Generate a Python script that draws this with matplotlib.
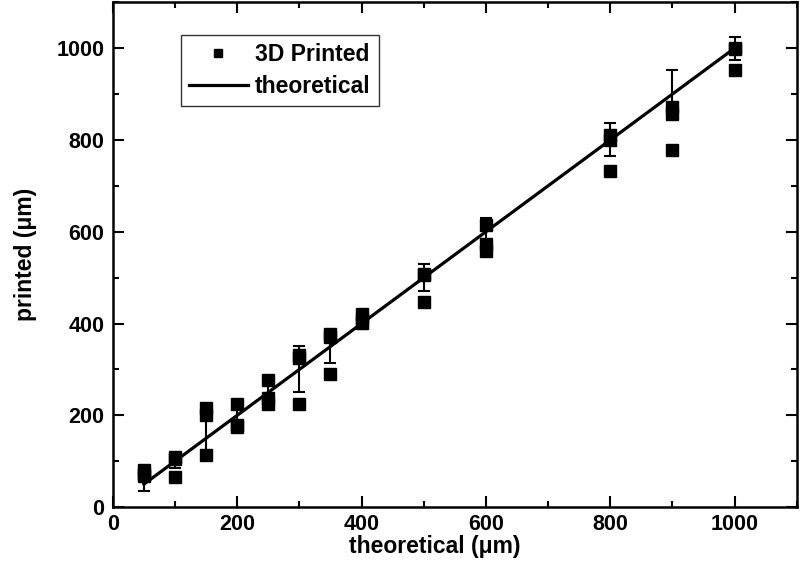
import numpy as np
import matplotlib
matplotlib.use("Agg")
import matplotlib.pyplot as plt
from matplotlib.ticker import MultipleLocator

# -------------------------------
# DATOS
# -------------------------------
theo = [50, 100, 150, 200, 250, 300, 350, 400, 500, 600, 800, 900, 1000]

# tres medidas por punto
printed_a = [80, 110, 215, 225, 276, 332, 378, 420, 509, 614, 810, 872, 1000]
printed_b = [72, 104, 200, 180, 237, 326, 370, 410, 505, 574, 800, 856, 998]
printed_c = [68, 66, 113, 175, 224, 225, 290, 402, 446, 558, 732, 778, 952]

# barras de error (centradas en el valor teórico)
err = [15, 15, 45, 25, 25, 50, 37, 12, 29, 30, 36, 52, 25]

line_x = [50, 1000]
line_y = [50, 1000]

# -------------------------------
# ESTILO
# -------------------------------
plt.rcParams["font.family"] = ["Liberation Sans", "DejaVu Sans"]
plt.rcParams["font.weight"] = "bold"

fig = plt.figure(figsize=(8, 5.66), dpi=100)
ax = fig.add_axes([0.141, 0.104, 0.855, 0.892])

# error bars
ax.errorbar(theo, theo, yerr=err, fmt="none", ecolor="black",
            elinewidth=1.5, capsize=4.5, capthick=1.5, zorder=2)

# puntos
all_x = theo * 3
all_y = printed_a + printed_b + printed_c
ax.plot(all_x, all_y, "s", color="black", markersize=9, zorder=3,
        label="3D Printed")

# teórico
ax.plot(line_x, line_y, "-", color="black", linewidth=2.3, zorder=4,
        label="theoretical")

ax.set_xlim(0, 1100)
ax.set_ylim(0, 1100)

ax.xaxis.set_major_locator(MultipleLocator(200))
ax.xaxis.set_minor_locator(MultipleLocator(100))
ax.yaxis.set_major_locator(MultipleLocator(200))
ax.yaxis.set_minor_locator(MultipleLocator(100))

ax.tick_params(which="both", direction="in", top=True, right=True,
               width=1.5, labelsize=15.5)
ax.tick_params(which="major", length=8)
ax.tick_params(which="minor", length=4)
ax.tick_params(axis="x", pad=5)
ax.tick_params(axis="y", pad=6)

for s in ax.spines.values():
    s.set_linewidth(1.8)

ax.set_xlabel("theoretical (μm)", fontsize=16.5, fontweight="bold", va="center")
ax.set_ylabel("printed (μm)", fontsize=16.5, fontweight="bold", va="center")
ax.xaxis.set_label_coords(0.47, -0.078)
ax.yaxis.set_label_coords(-0.128, 0.5)

leg = ax.legend(loc="upper left", bbox_to_anchor=(0.099, 0.935),
                fontsize=16.5, frameon=True, fancybox=False,
                handlelength=2.6, markerscale=0.7, borderpad=0.35,
                labelspacing=0.4, handletextpad=0.3, borderaxespad=0)
leg.get_frame().set_edgecolor("black")
leg.get_frame().set_linewidth(1.0)

fig.savefig("out.png", dpi=100)
plt.close(fig)
